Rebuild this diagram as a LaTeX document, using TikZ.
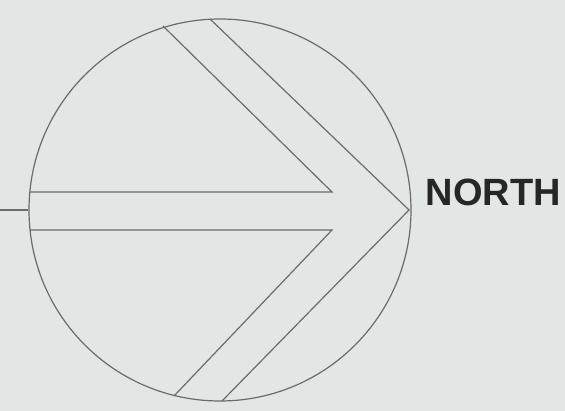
\documentclass[tikz,border=0pt]{standalone}
\usepackage{fontspec}
\newfontfamily\labelfont{Liberation Sans}
\usetikzlibrary{positioning}

\definecolor{paper}{RGB}{226,230,228}
\definecolor{ink}{RGB}{105,108,108}

\begin{document}
\begin{tikzpicture}[
  x=1pt, y=-1pt,
  line/.style={draw=ink, line width=1.2pt},
  dialbox/.style={circle, draw=ink, line width=1.2pt, minimum size=382pt, inner sep=0pt},
  caption/.style={font=\labelfont\bfseries\fontsize{38}{40}\selectfont, text=black!85, inner sep=0pt}]
  \fill[paper] (0,0) rectangle (565,411);
  \useasboundingbox (0,0) rectangle (565,411);
  \node[dialbox] (dial) at (220,210) {};
  \node[caption, anchor=base west] (north) at ([xshift=14pt, yshift=4pt]dial.east) {NORTH};
  % chevron points
  \coordinate (tip) at (409,210);
  \coordinate (uptop) at (210,19);
  \coordinate (upin) at (163,26);
  \coordinate (lowin) at (174,396);
  \coordinate (lowbot) at (222,401);
  \coordinate (notchup) at (332,192);
  \coordinate (notchlow) at (332,230);
  \coordinate (stub) at (0,210);
  \draw[line] (stub) -- (dial.west);
  \draw[line] (30,192) -- (notchup) -- (upin);
  \draw[line] (30,230) -- (notchlow) -- (lowin);
  \draw[line] (uptop) -- (tip) -- (lowbot);
\end{tikzpicture}
\end{document}
